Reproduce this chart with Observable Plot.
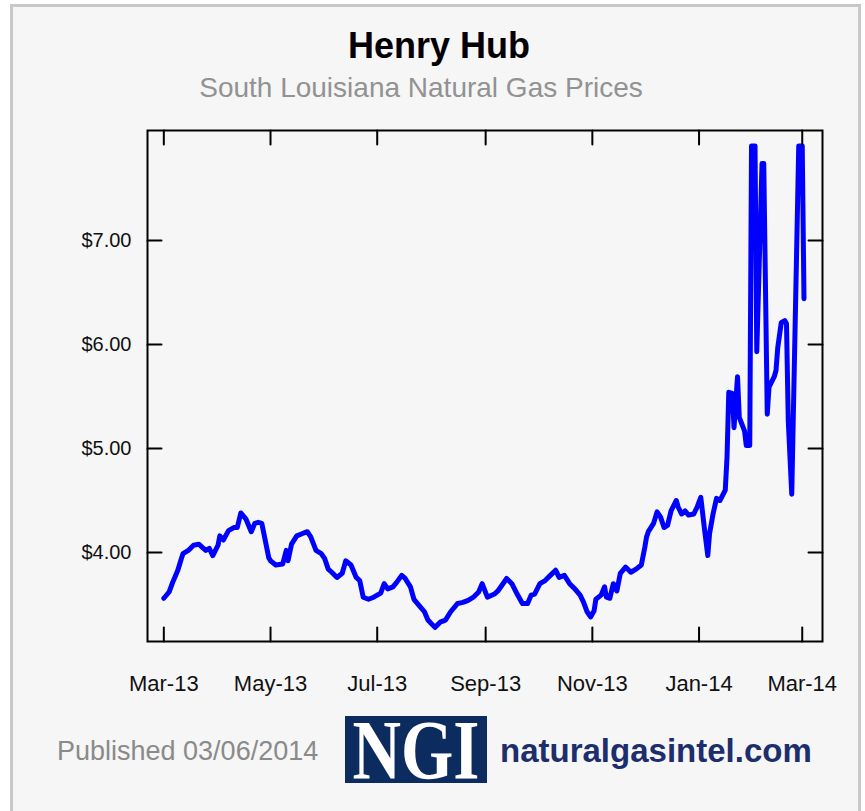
<!DOCTYPE html>
<html>
<head>
<meta charset="utf-8">
<script src="https://cdn.jsdelivr.net/npm/d3@7"></script>
<script src="https://cdn.jsdelivr.net/npm/@observablehq/plot@0.6"></script>
<style>
html, body { margin: 0; padding: 0; background: #fff; width: 865px; height: 811px; overflow: hidden; font-family: "Liberation Sans", Arial, sans-serif; }
#panel { position: absolute; left: 10px; top: 4px; width: 851px; height: 840px; box-sizing: border-box; border: 3px solid #c8c8c8; background: #f6f6f6; }
.abs { position: absolute; white-space: nowrap; }
#title { left: 239px; width: 400px; top: 28px; text-align: center; font-weight: bold; font-size: 36px; line-height: 36px; color: #000; }
#subtitle { left: 121px; width: 600px; top: 74px; text-align: center; font-size: 28px; line-height: 28px; color: #929292; }
#chart { position: absolute; left: 0; top: 100px; }
#pub { left: 57px; top: 738px; font-size: 27px; line-height: 27px; color: #8a8a8a; }
#logo { left: 345px; top: 716px; width: 142px; height: 67px; background: #0c2b5e; }
#ngi { left: 316px; width: 200px; top: 709px; text-align: center; font-family: "Liberation Serif", "Times New Roman", serif; font-weight: bold; font-size: 84px; line-height: 84px; color: #fff; transform: scaleX(0.8); transform-origin: center; }
#site { left: 500px; top: 734px; font-size: 33px; line-height: 33px; font-weight: bold; color: #1c2e6c; }
</style>
</head>
<body>
<div id="panel"></div>
<div id="title" class="abs">Henry Hub</div>
<div id="subtitle" class="abs">South Louisiana Natural Gas Prices</div>
<div id="chart"></div>
<div id="pub" class="abs">Published 03/06/2014</div>
<div id="logo" class="abs"></div>
<div id="ngi" class="abs">NGI</div>
<div id="site" class="abs">naturalgasintel.com</div>
<script>
const dates = [
  "2013-03-01","2013-03-04","2013-03-06","2013-03-09","2013-03-11","2013-03-12","2013-03-15","2013-03-18",
  "2013-03-21","2013-03-23","2013-03-25","2013-03-27","2013-03-29","2013-04-01","2013-04-02","2013-04-04",
  "2013-04-07","2013-04-10","2013-04-12","2013-04-14","2013-04-17","2013-04-20","2013-04-22","2013-04-24",
  "2013-04-26","2013-04-30","2013-05-01","2013-05-04","2013-05-08","2013-05-10","2013-05-11","2013-05-13",
  "2013-05-16","2013-05-19","2013-05-22","2013-05-24","2013-05-27","2013-05-30","2013-06-01","2013-06-03",
  "2013-06-05","2013-06-08","2013-06-11","2013-06-13","2013-06-16","2013-06-19","2013-06-21","2013-06-23",
  "2013-06-26","2013-06-29","2013-07-03","2013-07-05","2013-07-07","2013-07-10","2013-07-12","2013-07-15",
  "2013-07-17","2013-07-20","2013-07-22","2013-07-25","2013-07-28","2013-07-30","2013-08-03","2013-08-06",
  "2013-08-09","2013-08-12","2013-08-16","2013-08-19","2013-08-22","2013-08-25","2013-08-28","2013-08-30",
  "2013-09-02","2013-09-06","2013-09-08","2013-09-13","2013-09-16","2013-09-19","2013-09-22","2013-09-25",
  "2013-09-27","2013-09-29","2013-10-02","2013-10-05","2013-10-08","2013-10-11","2013-10-13","2013-10-16",
  "2013-10-19","2013-10-22","2013-10-25","2013-10-27","2013-10-29","2013-10-31","2013-11-02","2013-11-03",
  "2013-11-06","2013-11-08","2013-11-09","2013-11-11","2013-11-13","2013-11-15","2013-11-17","2013-11-20",
  "2013-11-23","2013-11-26","2013-11-29","2013-12-01","2013-12-02","2013-12-03","2013-12-06","2013-12-08",
  "2013-12-10","2013-12-12","2013-12-14","2013-12-16","2013-12-19","2013-12-20","2013-12-22","2013-12-24",
  "2013-12-26","2013-12-29","2013-12-31","2014-01-02","2014-01-04","2014-01-06","2014-01-07","2014-01-09",
  "2014-01-11","2014-01-13","2014-01-16","2014-01-17","2014-01-18","2014-01-20","2014-01-21","2014-01-23",
  "2014-01-24","2014-01-27","2014-01-28","2014-01-30","2014-01-31","2014-02-02","2014-02-03","2014-02-06",
  "2014-02-07","2014-02-09","2014-02-10","2014-02-13","2014-02-14","2014-02-15","2014-02-17","2014-02-19",
  "2014-02-20","2014-02-21","2014-02-23","2014-02-27","2014-03-01","2014-03-02"
];
const prices = [
  3.56,3.62,3.71,3.83,3.94,3.99,4.02,4.07,
  4.08,4.05,4.02,4.04,3.97,4.07,4.16,4.12,
  4.21,4.24,4.24,4.38,4.32,4.20,4.28,4.29,
  4.28,3.95,3.92,3.88,3.89,4.02,3.92,4.08,
  4.16,4.18,4.20,4.15,4.02,3.99,3.94,3.84,
  3.81,3.76,3.80,3.92,3.88,3.76,3.73,3.57,
  3.55,3.57,3.61,3.70,3.65,3.67,3.71,3.78,
  3.75,3.67,3.55,3.49,3.43,3.35,3.28,3.33,
  3.35,3.43,3.51,3.52,3.54,3.57,3.62,3.70,
  3.57,3.60,3.63,3.75,3.70,3.60,3.51,3.51,
  3.59,3.60,3.70,3.73,3.78,3.83,3.76,3.78,
  3.70,3.65,3.59,3.52,3.43,3.38,3.44,3.55,
  3.59,3.67,3.57,3.56,3.70,3.63,3.80,3.86,
  3.81,3.84,3.88,4.05,4.15,4.20,4.28,4.39,
  4.34,4.24,4.26,4.40,4.50,4.44,4.37,4.40,
  4.36,4.37,4.44,4.53,4.24,3.97,4.18,4.37,
  4.52,4.50,4.60,4.92,5.54,5.53,5.20,5.69,
  5.30,5.17,5.03,5.03,7.91,7.91,5.93,7.74,
  7.74,5.33,5.59,5.69,5.75,5.97,6.21,6.23,
  6.20,5.27,4.56,7.91,7.91,6.44
];
const yTicks = [4, 5, 6, 7];
const xTickDates = ["2013-03-01","2013-05-01","2013-07-01","2013-09-01","2013-11-01","2014-01-01","2014-03-01"];
const xTickLabels = ["Mar-13","May-13","Jul-13","Sep-13","Nov-13","Jan-14","Mar-14"];

const data = dates.map((d, i) => ({date: new Date(d), price: prices[i]}));
const xTicks = xTickDates.map(d => new Date(d));
const labelByTime = new Map(xTicks.map((d, i) => [d.getTime(), xTickLabels[i]]));

const lineShape = {draw(context, l) { context.moveTo(0, 0); context.lineTo(0, -l); }};
const tickStyle = {length: 14, anchor: "start", shape: lineShape, stroke: "#000", strokeWidth: 2};

const chart = Plot.plot({
  width: 865,
  height: 610,
  marginLeft: 147,
  marginRight: 43,
  marginTop: 30,
  marginBottom: 69,
  style: {background: "transparent", fontFamily: "'Liberation Sans', Arial, sans-serif", color: "#111"},
  x: {type: "utc", domain: [new Date(Date.UTC(2013, 1, 19, 16)), new Date(Date.UTC(2014, 2, 12, 14))]},
  y: {domain: [3.144, 8.058]},
  marks: [
    Plot.axisY(yTicks, {tickSize: 0, tickPadding: 16, tickFormat: d => "$" + d.toFixed(2), fontSize: 20, fill: "#111", label: null}),
    Plot.axisX(xTicks, {tickSize: 0, tickPadding: 34, tickFormat: d => labelByTime.get(d.getTime()), fontSize: 22, fill: "#111", label: null}),
    Plot.line(data, {x: "date", y: "price", stroke: "#0000ff", strokeWidth: 5, strokeLinejoin: "round", strokeLinecap: "round"}),
    Plot.vectorY(yTicks, {frameAnchor: "left", rotate: 90, ...tickStyle}),
    Plot.vectorY(yTicks, {frameAnchor: "right", rotate: -90, ...tickStyle}),
    Plot.vectorX(xTicks, {frameAnchor: "bottom", rotate: 0, ...tickStyle}),
    Plot.vectorX(xTicks, {frameAnchor: "top", rotate: 180, ...tickStyle}),
    Plot.frame({stroke: "#000", strokeWidth: 2})
  ]
});
document.getElementById("chart").appendChild(chart);
</script>
</body>
</html>
